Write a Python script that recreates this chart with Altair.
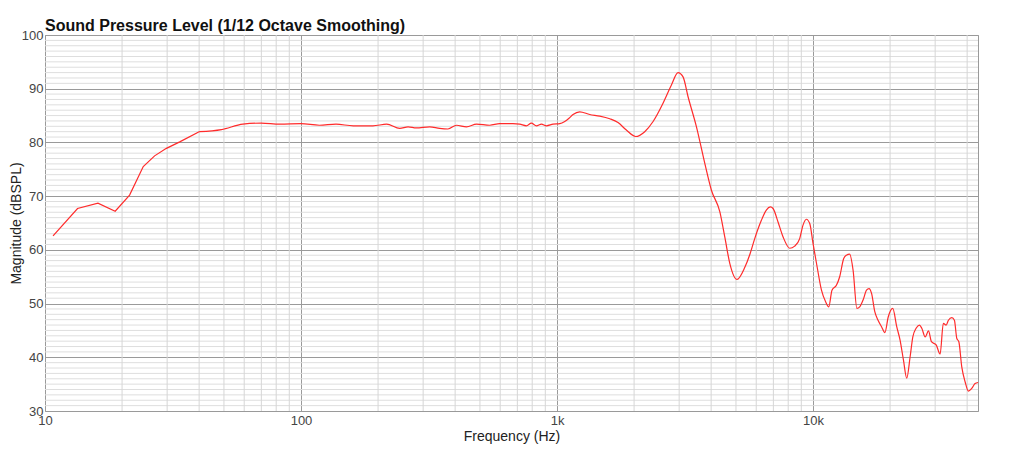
import altair as alt
import pandas as pd

# Frequency response (Hz, dBSPL)
freq = [10.75, 13.4, 16.1, 18.8, 21.4, 24.2, 26.8, 29.8, 33.6, 40, 48.9, 59.3, 70, 82.6,
        100, 118, 137, 160, 191, 216, 243, 262, 282, 318, 348, 375, 405, 443, 485, 546,
        597, 673, 715, 759, 794, 831, 869, 909, 965, 1025, 1072, 1114, 1155, 1227, 1342,
        1469, 1607, 1731, 1866, 2030, 2201, 2373, 2595, 2798, 2970, 3107, 3250, 3505,
        3778, 4010, 4324, 4522, 4730, 5050, 5410, 5660, 5920, 6285, 6570, 6815, 6980,
        7300, 7640, 8110, 8480, 8870, 9140, 9420, 9710, 10000, 10370, 10790, 11210,
        11520, 11860, 12340, 12710, 13180, 13500, 13900, 14340, 14840, 15220, 15700,
        16180, 16550, 16930, 17430, 17950, 18520, 19090, 19670, 20490, 21230, 21880,
        22550, 23230, 23950, 24540, 25270, 26040, 26600, 27420, 28250, 29010, 30270,
        31360, 32290, 33100, 33800, 34850, 35670, 36450, 37120, 38110, 39290, 40460,
        41680, 42950, 44100]
spl = [62.6, 67.7, 68.7, 67.2, 70.2, 75.5, 77.5, 78.9, 80.1, 82.0, 82.4, 83.4, 83.6, 83.4,
       83.5, 83.2, 83.4, 83.1, 83.1, 83.4, 82.6, 82.9, 82.7, 82.9, 82.6, 82.5, 83.2, 82.9,
       83.4, 83.2, 83.5, 83.5, 83.4, 83.1, 83.6, 83.1, 83.4, 83.1, 83.4, 83.5, 83.9, 84.5,
       85.2, 85.7, 85.2, 84.9, 84.4, 83.7, 82.3, 81.1, 82.0, 83.9, 87.3, 90.7, 93.0, 92.2,
       88.5, 82.9, 76.1, 71.1, 67.1, 62.4, 57.5, 54.5, 56.7, 59.1, 62.1, 65.5, 67.4, 68.0,
       67.7, 65.2, 62.4, 60.3, 60.7, 62.1, 64.6, 65.7, 64.9, 61.2, 56.9, 52.5, 50.3, 49.4,
       52.5, 53.4, 55.0, 58.4, 59.0, 59.2, 56.2, 49.1, 49.4, 50.7, 52.5, 52.8, 51.9, 48.5,
       46.9, 45.7, 44.6, 47.5, 49.1, 45.7, 43.2, 39.5, 36.1, 40.1, 43.8, 45.4, 46.0, 45.4,
       43.8, 44.9, 42.9, 42.3, 40.6, 46.3, 46.0, 46.9, 47.4, 46.9, 43.5, 42.9, 38.2, 35.4,
       33.7, 34.2, 35.1, 35.3]

x_major = [10, 100, 1000, 10000]
x_minor = [20, 30, 40, 50, 60, 70, 80, 90,
           200, 300, 400, 500, 600, 700, 800, 900,
           2000, 3000, 4000, 5000, 6000, 7000, 8000, 9000,
           20000, 30000, 40000]
y_major = [30, 40, 50, 60, 70, 80, 90, 100]
y_minor = [v for v in range(31, 100) if v % 10 != 0]

X_DOMAIN = [10, 44100]
Y_DOMAIN = [30, 100]
FONT = "Liberation Sans"
LINE_COLOR = "#ff2b2b"

df = pd.DataFrame({"f": freq, "db": spl})
xs = alt.Scale(type="log", domain=X_DOMAIN, nice=False)
ys = alt.Scale(domain=Y_DOMAIN, nice=False, zero=False)

vgrid = alt.Chart(pd.DataFrame({"f": x_minor})).mark_rule(
    color="#d6d6d6", strokeWidth=1
).encode(x=alt.X("f:Q", scale=xs))

hgrid = alt.Chart(pd.DataFrame({"db": y_minor})).mark_rule(
    color="#dedede", strokeWidth=1
).encode(y=alt.Y("db:Q", scale=ys))

x_enc = alt.X("f:Q", scale=xs, title="Frequency (Hz)",
              axis=alt.Axis(values=x_major, grid=True, gridColor="#9a9a9a",
                            ticks=False, domain=False, labelPadding=3,
                            labelFlush=False,
                            labelExpr="datum.value >= 1000 ? format(datum.value/1000, 'd') + 'k' : format(datum.value, 'd')",
                            titlePadding=2))
y_enc = alt.Y("db:Q", scale=ys, title="Magnitude (dBSPL)",
              axis=alt.Axis(values=y_major, grid=True, gridColor="#9a9a9a",
                            ticks=False, domain=False, labelPadding=2,
                            labelFlush=False, titlePadding=-2))

# sparse low-frequency points are joined by straight segments, the rest smoothly
low = alt.Chart(df[df["f"] <= 40]).mark_line(
    color=LINE_COLOR, strokeWidth=1.2, interpolate="linear"
).encode(x=x_enc, y=y_enc)
high = alt.Chart(df[df["f"] >= 40]).mark_line(
    color=LINE_COLOR, strokeWidth=1.2, interpolate="monotone"
).encode(x=x_enc, y=y_enc)

chart = alt.layer(hgrid, vgrid, low, high).properties(
    width=933, height=376,
    title=alt.TitleParams("Sound Pressure Level (1/12 Octave Smoothing)",
                          anchor="start", frame="group", fontSize=16,
                          fontWeight="bold", font=FONT, color="#111", offset=-5),
    autosize=alt.AutoSizeParams(type="none"),
    padding={"left": 37, "top": 27, "right": 25, "bottom": 36},
).configure_view(
    stroke="#9a9a9a", strokeWidth=1
).configure_axis(
    labelFont=FONT, titleFont=FONT, labelFontSize=13, titleFontSize=14,
    labelColor="#444", titleColor="#222", titleFontWeight="normal",
    gridOpacity=1,
)

chart.save("out.html", embed_options={"renderer": "svg", "actions": False})
